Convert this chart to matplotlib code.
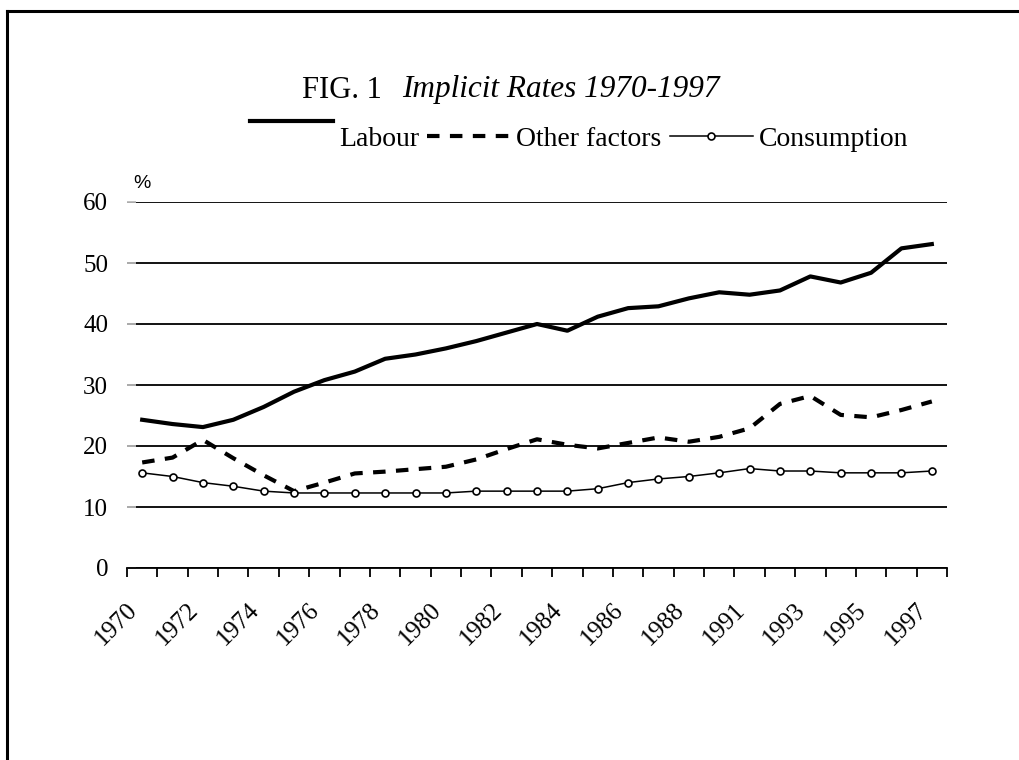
import matplotlib
matplotlib.use('Agg')
import matplotlib.pyplot as plt
from matplotlib.lines import Line2D
from matplotlib.legend_handler import HandlerLine2D
from matplotlib.transforms import ScaledTranslation

# categories (one year is missing between 1988 and 1991 in the source)
years = ['1970', '1971', '1972', '1973', '1974', '1975', '1976', '1977', '1978',
         '1979', '1980', '1981', '1982', '1983', '1984', '1985', '1986', '1987',
         '1988', '1989', '1991', '1992', '1993', '1994', '1995', '1996', '1997']

labour = [24.3, 23.6, 23.1, 24.3, 26.4, 28.9, 30.8, 32.2, 34.3, 35.0, 36.0, 37.2,
          38.6, 40.0, 38.9, 41.2, 42.6, 42.9, 44.2, 45.2, 44.8, 45.5, 47.8, 46.8,
          48.4, 52.4, 53.1]
other = [17.3, 18.1, 21.0, 18.0, 15.2, 12.6, 14.0, 15.5, 15.8, 16.2, 16.6, 17.8,
         19.5, 21.1, 20.2, 19.6, 20.5, 21.4, 20.7, 21.5, 22.9, 26.9, 28.2, 25.1,
         24.7, 25.9, 27.3]
consumption = [15.6, 15.0, 14.0, 13.4, 12.6, 12.3, 12.3, 12.3, 12.3, 12.3, 12.3,
               12.6, 12.6, 12.6, 12.6, 13.0, 14.0, 14.6, 15.0, 15.6, 16.3, 15.9,
               15.9, 15.6, 15.6, 15.6, 15.9]


class RaisedHandler(HandlerLine2D):
    # the Labour key sits above the text line in the original
    def create_artists(self, legend, orig_handle, xdescent, ydescent, width,
                       height, fontsize, trans):
        return super().create_artists(legend, orig_handle, xdescent,
                                      ydescent - 22, width, height, fontsize, trans)


plt.rcParams['font.family'] = ['Liberation Serif', 'DejaVu Serif']

fig = plt.figure(figsize=(10.2, 7.6), dpi=100)
ax = fig.add_axes([127 / 1020, 1 - 568 / 760, 820 / 1020, 366 / 760])

x = list(range(len(years)))
l1, = ax.plot(x, labour, color='black', lw=3, label='Labour')
ax.plot(x, other, color='black', lw=3, ls=(0, (3, 2.5)), label='Other factors')
ax.plot(x, consumption, color='black', lw=1.1, marker='o', ms=5, mfc='white',
        mec='black', mew=1.2, label='Consumption')

ax.set_xlim(-0.5, len(years) - 0.5)
ax.set_ylim(0, 60)
ax.set_yticks(range(0, 61, 10))
ax.yaxis.grid(True, color='black', lw=1.3)
ax.set_axisbelow(True)
for s in ['left', 'right', 'top']:
    ax.spines[s].set_visible(False)
ax.spines['bottom'].set_linewidth(1.3)
ax.tick_params(axis='y', direction='in', length=6.5, width=1.3, color='#bbbbbb',
               labelsize=18, pad=13.5)

# ticks on category boundaries, labels on every other category
ax.set_xticks([i - 0.5 for i in range(len(years) + 1)])
ax.set_xticklabels([])
ax.tick_params(axis='x', which='major', direction='out', length=6.5, width=1.3)
ax.set_xticks(x[::2], minor=True)
ax.set_xticklabels(years[::2], minor=True, rotation=45, ha='right', va='top',
                   rotation_mode='anchor', fontsize=18)
ax.tick_params(axis='x', which='minor', length=0, pad=22)
shift = ScaledTranslation(-16 / 100, 0, fig.dpi_scale_trans)
for lbl in ax.get_xticklabels(minor=True):
    lbl.set_transform(lbl.get_transform() + shift)

fig.text(133 / 1020, 1 - 183 / 760, '%', fontsize=14, family='Liberation Sans',
         va='center', ha='left')

fig.text(302 / 1020, 1 - 90 / 760, 'FIG. 1  ', fontsize=22, va='center', ha='left')
fig.text(402 / 1020, 1 - 90 / 760, 'Implicit Rates 1970-1997', fontsize=22.5,
         style='italic', va='center', ha='left')

fig.legend(loc='center', bbox_to_anchor=(579 / 1020, 1 - 139 / 760), ncol=3,
           frameon=False, fontsize=20, handlelength=3.0, handletextpad=0.2,
           columnspacing=0.3, numpoints=1, handler_map={l1: RaisedHandler()})

# chart area border (only top and left edges are visible in the crop)
fig.add_artist(Line2D([7 / 1020, 7 / 1020], [0, 1 - 11 / 760],
                      transform=fig.transFigure, color='black', lw=2.2))
fig.add_artist(Line2D([7 / 1020, 1], [1 - 11 / 760, 1 - 11 / 760],
                      transform=fig.transFigure, color='black', lw=2.2))

fig.savefig('out.png', dpi=100)
